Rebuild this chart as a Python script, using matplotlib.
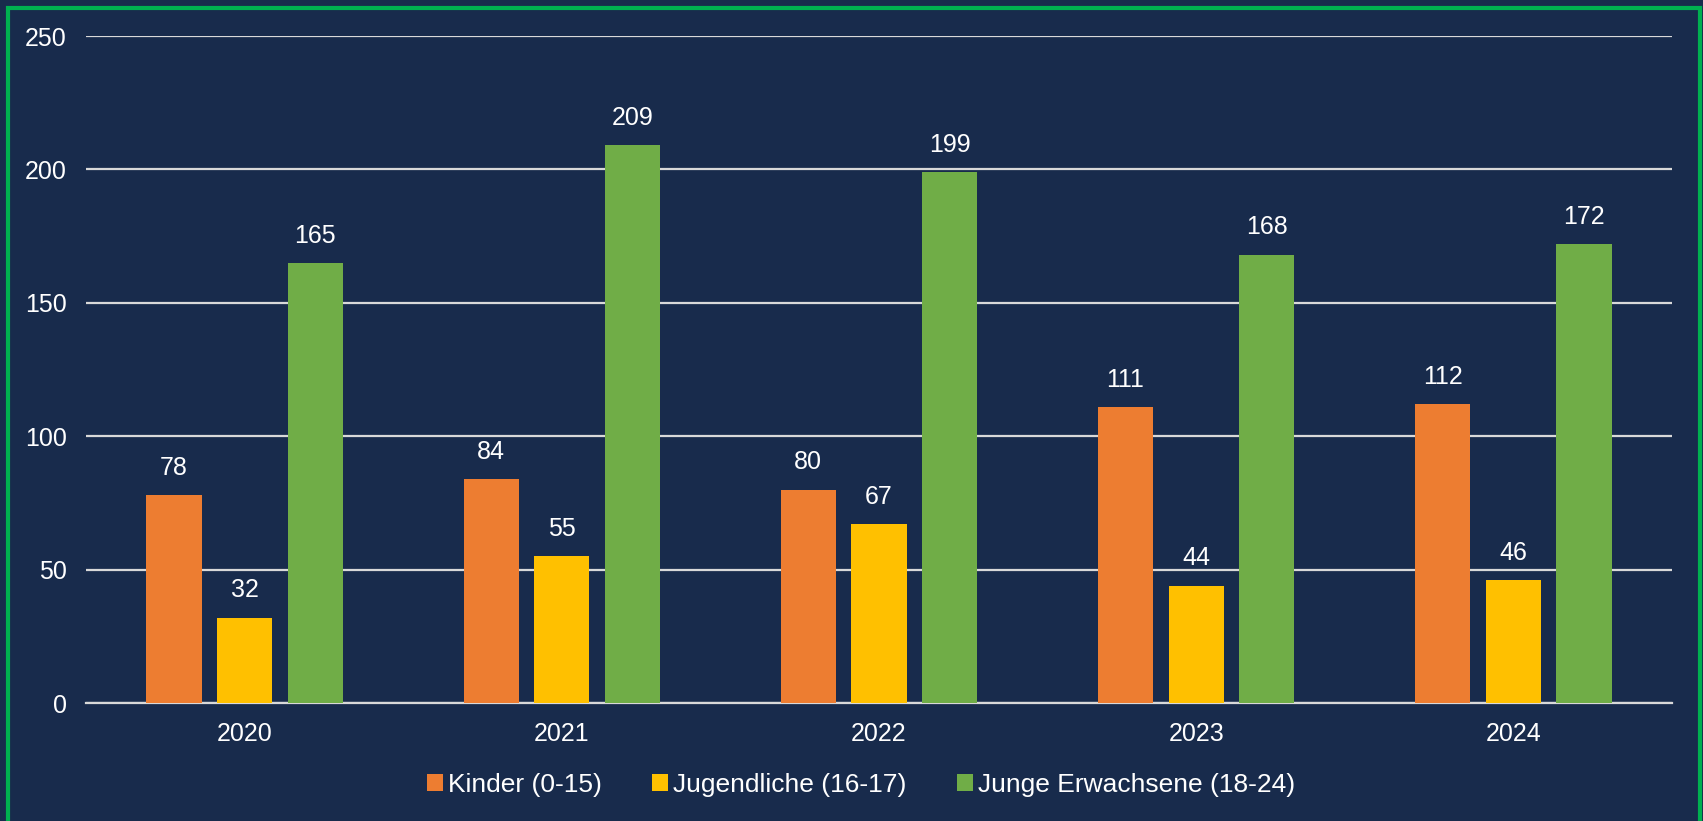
import matplotlib
matplotlib.use("Agg")
import matplotlib.pyplot as plt
import numpy as np
from matplotlib.patches import Rectangle

years = ["2020", "2021", "2022", "2023", "2024"]
series_names = ["Kinder (0-15)", "Jugendliche (16-17)", "Junge Erwachsene (18-24)"]
kinder = [78, 84, 80, 111, 112]
jugendliche = [32, 55, 67, 44, 46]
junge_erwachsene = [165, 209, 199, 168, 172]
colors = ["#ED7D31", "#FFC000", "#70AD47"]
yticks = [0, 50, 100, 150, 200, 250]

bg = "#182B4C"
plt.rcParams['font.family'] = ['Liberation Sans', 'DejaVu Sans']

W, H = 1703, 821
fig = plt.figure(figsize=(W/100, H/100), dpi=100, facecolor=bg)
ax = fig.add_axes([86/W, 1-703/H, (1672-86)/W, (703-36)/H])
ax.set_facecolor(bg)

x = np.arange(len(years))
width = 0.174
step = 0.2227
data = [kinder, jugendliche, junge_erwachsene]
for i, (vals, c, name) in enumerate(zip(data, colors, series_names)):
    bars = ax.bar(x + (i-1)*step, vals, width, color=c, label=name, zorder=3)
    for b, v in zip(bars, vals):
        ax.annotate(str(v), (b.get_x()+b.get_width()/2, v), xytext=(0, 11),
                    textcoords="offset points", ha="center", va="bottom",
                    color="white", fontsize=18)

ax.set_xlim(-0.5, 4.5)
ax.set_ylim(0, 250)
ax.set_yticks(yticks)
ax.set_xticks(x)
ax.set_xticklabels(years)
ax.grid(axis="y", color="#D9D9D9", linewidth=1.6, zorder=0)
ax.tick_params(axis="both", length=0, colors="white", labelsize=18)
ax.tick_params(axis="y", pad=14)
ax.tick_params(axis="x", pad=14)
for s in ["top", "right", "left"]:
    ax.spines[s].set_visible(False)
ax.spines["bottom"].set_color("#D9D9D9")
ax.spines["bottom"].set_linewidth(1.6)

leg = fig.legend(loc="center", bbox_to_anchor=(861/W, 1-785/H), ncol=3,
                 frameon=False, fontsize=19, labelcolor="white",
                 handlelength=0.6, handleheight=0.6, handletextpad=0.2,
                 columnspacing=1.9)

fig.patches.append(Rectangle((8/W, -0.1), (1700-8)/W, 1.1-8/H,
                             transform=fig.transFigure, fill=False,
                             edgecolor="#00B050", linewidth=3))

fig.savefig("out.png", dpi=100, facecolor=bg)
